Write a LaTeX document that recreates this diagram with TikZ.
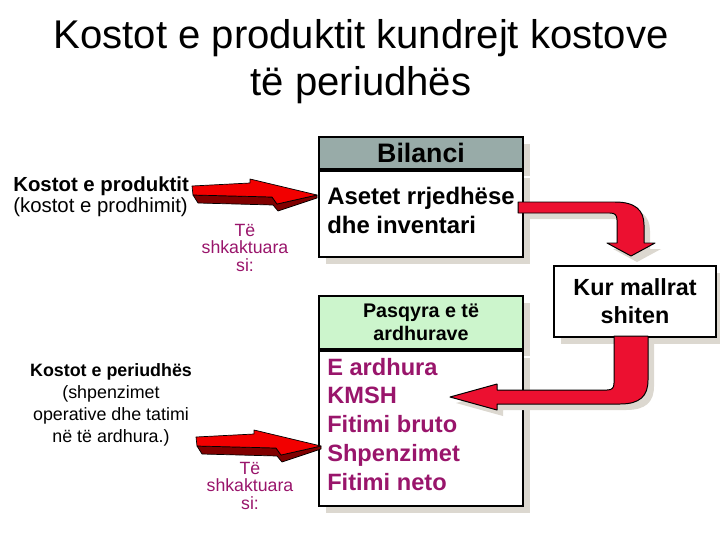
\documentclass[tikz,border=0pt]{standalone}
\usepackage{fontspec}
\setmainfont{Liberation Sans}
\usetikzlibrary{shadows}
\definecolor{bilhead}{HTML}{98ABA8}
\definecolor{pashead}{HTML}{CCF5CC}
\definecolor{itemtxt}{HTML}{99156B}
\definecolor{shadowgray}{HTML}{DCD8D0}
\definecolor{arrowred}{HTML}{EC1030}
\definecolor{blockred}{HTML}{F20000}
\definecolor{blockdark}{HTML}{800000}
\tikzset{
  boxshadow/.style={drop shadow={shadow xshift=0.17cm, shadow yshift=-0.17cm,
                    fill=shadowgray, opacity=1}},
  box/.style={draw, line width=1.4pt, inner sep=0pt, anchor=north west,
              fill=white, boxshadow},
  headtxt/.style={font=\bfseries\fontsize{14}{16.6}\selectfont, align=center},
  itemtxt/.style={font=\bfseries\fontsize{16.8}{20.4}\selectfont, anchor=base west,
                  inner sep=0pt, align=left},
  causetxt/.style={font=\fontsize{12.6}{12.2}\selectfont, text=itemtxt, anchor=base,
                   align=center, inner sep=0pt},
  sidetxt/.style={font=\fontsize{12.7}{15.6}\selectfont, inner sep=0pt, anchor=base},
  bentarrow/.style={fill=arrowred, draw=black, line width=0.7pt, line join=round,
                    drop shadow={shadow xshift=0.15cm, shadow yshift=-0.15cm,
                    fill=shadowgray, opacity=1}},
  blockface/.style={fill=blockred, draw=black, line width=0.5pt, line join=round},
  blockside/.style={fill=blockdark, draw=black, line width=0.5pt, line join=round},
}
\begin{document}
\begin{tikzpicture}[x=0.025cm, y=-0.025cm]
  \useasboundingbox (0,0) rectangle (720,540);

  % title (base = last line)
  \node[font=\fontsize{28.5}{33}\selectfont, align=center, anchor=base, inner sep=0pt]
    (title) at (361,95) {Kostot e produktit kundrejt kostove\\të periudhës};

  % balance sheet
  \node[box, fill=bilhead, minimum width=5.1cm, minimum height=0.8cm,
        font=\bfseries\fontsize{19}{22}\selectfont] (bilhead) at (318,136) {Bilanci};
  \node[box, minimum width=5.1cm, minimum height=2.15cm] (bilbody) at (bilhead.south west) {};
  \node[itemtxt, font=\bfseries\fontsize{17}{20}\selectfont] (assets) at (327,233)
    {Asetet rrjedhëse\\dhe inventari};

  % income statement
  \node[box, fill=pashead, minimum width=5.1cm, minimum height=1.325cm, headtxt]
    (pashead) at (318,295) {Pasqyra e të\\ardhurave};
  \node[box, minimum width=5.1cm, minimum height=3.875cm] (pasbody) at (pashead.south west) {};
  \node[itemtxt, text=itemtxt] (items) at (327,490)
    {E ardhura\\KMSH\\Fitimi bruto\\Shpenzimet\\Fitimi neto};

  % when goods are sold
  \node[box, minimum width=4.05cm, minimum height=1.775cm, align=center,
        font=\bfseries\fontsize{16.6}{20}\selectfont] (sold) at (553,265) {Kur mallrat\\shiten};

  % bent arrows
  \path[bentarrow] (518,202) -- (615,202) .. controls (635,202) and (644,210) .. (644,225)
    -- (644,243) -- (655,243) -- (631,256) -- (607,243) -- (617,243) -- (617,220)
    .. controls (617,215) and (615,213) .. (610,213) -- (518,213) -- cycle;
  \path[bentarrow] (614,336) -- (614,383) .. controls (614,388) and (612,390) .. (607,390)
    -- (497,390) -- (497,384) -- (450,397) -- (497,410) -- (497,404)
    -- (620,404) .. controls (640,404) and (648,396) .. (648,380) -- (648,336) -- cycle;

  % block arrows on the left
  \foreach \dx/\dy in {0/0, 4/251} {
    \begin{scope}[shift={(\dx,\dy)}]
      \path[blockside] (193,195) -- (272,197) -- (277,204) -- (317,195) -- (317,198)
        -- (278,211) -- (273,205) -- (198,203) -- cycle;
      \path[blockface] (192,186) -- (250,183) -- (250,179) -- (317,195) -- (277,204)
        -- (272,197) -- (193,195) -- cycle;
    \end{scope}
  }

  % left texts
  \node[inner sep=0pt, anchor=base west, align=left, font=\fontsize{14.5}{14.5}\selectfont]
    (prodcost) at (13,212) {\textbf{Kostot e produktit}\\(kostot e prodhimit)};
  \node[sidetxt, align=center] (percost) at (111,442)
    {\textbf{Kostot e periudhës}\\(shpenzimet\\operative dhe tatimi\\në të ardhura.)};
  \node[causetxt] (cause1) at (245,271) {Të\\shkaktuara\\si:};
  \node[causetxt] (cause2) at (250,509) {Të\\shkaktuara\\si:};
\end{tikzpicture}
\end{document}
